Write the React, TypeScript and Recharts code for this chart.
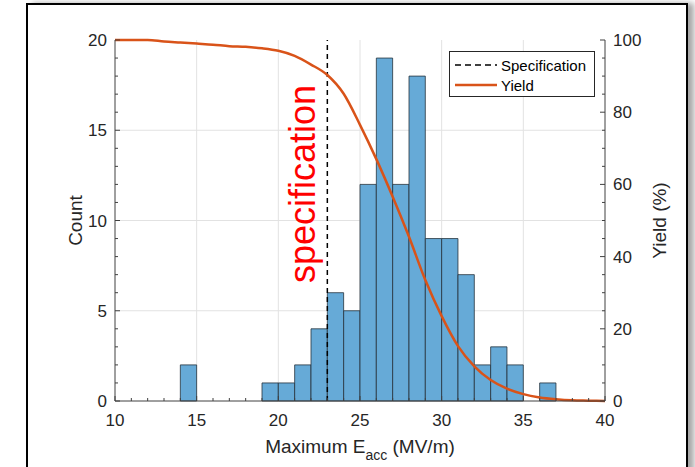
import { ComposedChart, Bar, Line, XAxis, YAxis, CartesianGrid, ReferenceLine, Legend, Label } from 'recharts';

// histogram bins (left edge, width 1 MV/m) and counts
const binStarts = [10, 11, 12, 13, 14, 15, 16, 17, 18, 19, 20, 21, 22, 23, 24, 25, 26, 27, 28, 29, 30, 31, 32, 33, 34, 35, 36, 37, 38, 39];
const counts = [0, 0, 0, 0, 2, 0, 0, 0, 0, 1, 1, 2, 4, 6, 5, 12, 19, 12, 18, 9, 9, 7, 2, 3, 2, 0, 1, 0, 0, 0];

// yield curve (%), sampled at bin edges
const yieldEacc = [10, 11, 12, 13, 14, 15, 16, 17, 18, 19, 20, 21, 22, 23, 24, 25, 26, 27, 28, 29, 30, 31, 32, 33, 34, 35, 36, 37, 38, 39, 40];
const yieldPct = [100, 100, 100, 99.6, 99.3, 99.0, 98.7, 98.3, 98.1, 97.7, 97.0, 95.6, 93.2, 90.3, 85.1, 76.5, 67.0, 56.6, 45.5, 33.5, 23.5, 15.2, 9.6, 5.8, 3.4, 1.9, 1.0, 0.5, 0.2, 0.1, 0];

const specValue = 23;

const xTicks = [10, 11, 12, 13, 14, 15, 16, 17, 18, 19, 20, 21, 22, 23, 24, 25, 26, 27, 28, 29, 30, 31, 32, 33, 34, 35, 36, 37, 38, 39, 40];
const countTicks = [0, 1, 2, 3, 4, 5, 6, 7, 8, 9, 10, 11, 12, 13, 14, 15, 16, 17, 18, 19, 20];
const yieldTicks = [0, 5, 10, 15, 20, 25, 30, 35, 40, 45, 50, 55, 60, 65, 70, 75, 80, 85, 90, 95, 100];
const gridX = [15, 20, 25, 30, 35];
const gridY = [5, 10, 15];

const binRows = binStarts.map((s, i) => ({ x: s + 0.5, count: counts[i] }));
const yieldRows = yieldEacc.map((x, i) => ({ x, yield: yieldPct[i] }));

const FONT = '"Liberation Sans", Arial, Helvetica, sans-serif';
const AX = '#404040';
const TXT = '#262626';
const ORANGE = '#D95319';

const XTick = ({ x, y, payload }: any) => {
  const v = payload.value;
  const major = v % 5 === 0;
  return (
    <g>
      <line x1={x} x2={x} y1={y} y2={y - (major ? 5 : 3)} stroke={AX} />
      {major && (
        <text x={x} y={y + 25} textAnchor="middle" fontSize={17} fill={TXT} fontFamily={FONT}>{v}</text>
      )}
    </g>
  );
};

const TopTick = ({ x, y, payload }: any) => {
  const major = payload.value % 5 === 0;
  return <line x1={x} x2={x} y1={y} y2={y + (major ? 5 : 3)} stroke={AX} />;
};

const LeftTick = ({ x, y, payload }: any) => {
  const v = payload.value;
  const major = v % 5 === 0;
  return (
    <g>
      <line x1={x} x2={x + (major ? 5 : 3)} y1={y} y2={y} stroke={AX} />
      {major && (
        <text x={x - 8} y={y + 6} textAnchor="end" fontSize={17} fill={TXT} fontFamily={FONT}>{v}</text>
      )}
    </g>
  );
};

const RightTick = ({ x, y, payload }: any) => {
  const v = payload.value;
  const major = v % 20 === 0;
  return (
    <g>
      <line x1={x} x2={x - (major ? 5 : 3)} y1={y} y2={y} stroke={AX} />
      {major && (
        <text x={x + 8} y={y + 6} textAnchor="start" fontSize={17} fill={TXT} fontFamily={FONT}>{v}</text>
      )}
    </g>
  );
};

const XTitle = ({ viewBox }: any) => (
  <text x={viewBox.x + viewBox.width / 2} y={viewBox.y + 52} textAnchor="middle" fontSize={19} fill={TXT} fontFamily={FONT}>
    <tspan>Maximum E</tspan>
    <tspan dy={7} fontSize={14}>acc</tspan>
    <tspan dy={-7}> (MV/m)</tspan>
  </text>
);

const LeftTitle = ({ viewBox }: any) => {
  const x = viewBox.x + 82;
  const y = viewBox.y + viewBox.height / 2;
  return (
    <text x={x} y={y} transform={`rotate(-90, ${x}, ${y})`} textAnchor="middle" fontSize={19} fill={TXT} fontFamily={FONT}>Count</text>
  );
};

const RightTitle = ({ viewBox }: any) => {
  const x = viewBox.x + 61;
  const y = viewBox.y + viewBox.height / 2;
  return (
    <text x={x} y={y} transform={`rotate(-90, ${x}, ${y})`} textAnchor="middle" fontSize={19} fill={TXT} fontFamily={FONT}>Yield (%)</text>
  );
};

const SpecText = ({ viewBox }: any) => {
  const x = viewBox.x - 12;
  const y = viewBox.y + 144;
  return (
    <text x={x} y={y} transform={`rotate(-90, ${x}, ${y})`} textAnchor="middle" fontSize={36} fill="#FF0000" fontFamily={FONT}>specification</text>
  );
};

const legendItems = [
  { name: 'Specification', color: '#000', dash: '6 4', width: 1.5 },
  { name: 'Yield', color: ORANGE, dash: undefined, width: 2.5 },
];

const LegendBox = () => (
  <div style={{ width: 146, height: 46, boxSizing: 'border-box', border: `1px solid ${TXT}`, background: '#fff', padding: '3px 0 0 4px', fontFamily: FONT, fontSize: 15, color: '#000' }}>
    {legendItems.map((it) => (
      <div key={it.name} style={{ display: 'flex', alignItems: 'center', height: 20 }}>
        <svg width={44} height={20}>
          <line x1={1} x2={43} y1={10} y2={10} stroke={it.color} strokeWidth={it.width} strokeDasharray={it.dash} />
        </svg>
        <span style={{ marginLeft: 3 }}>{it.name}</span>
      </div>
    ))}
  </div>
);

export default function App() {
  return (
    <div style={{ position: 'absolute', left: 0, top: 0, width: 695, height: 467, background: '#fff', overflow: 'hidden' }}>
      <div style={{ position: 'absolute', left: 26, top: 3, width: 662, height: 470, boxSizing: 'border-box', border: '2px solid #000', boxShadow: '6px 0 6px rgba(0,0,0,0.35)' }} />
      <div style={{ position: 'absolute', left: 0, top: 0 }}>
        <ComposedChart width={695} height={467} data={binRows} margin={{ top: 40, right: 0, bottom: 0, left: 0 }}>
          <CartesianGrid xAxisId="x" yAxisId="left" horizontalValues={gridY} verticalValues={gridX} stroke="#e2e2e2" />
          <XAxis xAxisId="line" dataKey="x" type="number" domain={[10, 40]} allowDataOverflow hide height={0} />
          <XAxis xAxisId="x" dataKey="x" type="number" domain={[10, 40]} ticks={xTicks} interval={0} allowDataOverflow
            height={66} tickSize={0} tickMargin={0} tick={<XTick />} tickLine={false} axisLine={{ stroke: AX }}>
            <Label content={<XTitle />} />
          </XAxis>
          <XAxis xAxisId="top" orientation="top" type="number" domain={[10, 40]} ticks={xTicks} interval={0} allowDataOverflow
            height={0} tickSize={0} tickMargin={0} tick={<TopTick />} tickLine={false} axisLine={{ stroke: AX }} />
          <YAxis yAxisId="left" type="number" domain={[0, 20]} ticks={countTicks} interval={0} width={115}
            tickSize={0} tickMargin={0} tick={<LeftTick />} tickLine={false} axisLine={{ stroke: AX }}>
            <Label content={<LeftTitle />} />
          </YAxis>
          <YAxis yAxisId="right" orientation="right" type="number" domain={[0, 100]} ticks={yieldTicks} interval={0} width={90}
            tickSize={0} tickMargin={0} tick={<RightTick />} tickLine={false} axisLine={{ stroke: AX }}>
            <Label content={<RightTitle />} />
          </YAxis>
          <Bar xAxisId="x" yAxisId="left" dataKey="count" barSize={16.3} fill="#66AAD7" stroke="#26323c" strokeWidth={0.8} isAnimationActive={false} />
          <ReferenceLine xAxisId="x" yAxisId="left" x={specValue} stroke="#000" strokeWidth={1.5} strokeDasharray="5 4">
            <Label content={<SpecText />} />
          </ReferenceLine>
          <Line xAxisId="line" yAxisId="right" data={yieldRows} dataKey="yield" type="monotone" stroke={ORANGE} strokeWidth={2.5} dot={false} isAnimationActive={false} />
          <Legend layout="horizontal" verticalAlign="middle" align="center" content={<LegendBox />}
            wrapperStyle={{ position: 'absolute', left: 449, top: 51, width: 146, height: 46 }} />
        </ComposedChart>
      </div>
    </div>
  );
}
